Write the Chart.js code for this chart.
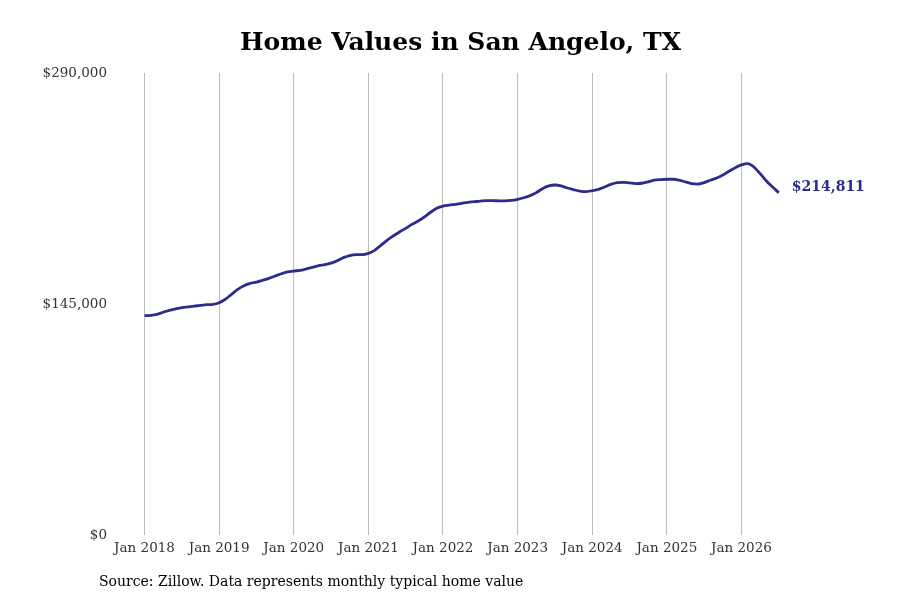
<!DOCTYPE html>
<html>
<head>
<meta charset="utf-8">
<title>Home Values in San Angelo, TX</title>
<script src="https://cdn.jsdelivr.net/npm/chart.js@4.4.1/dist/chart.umd.min.js"></script>
<style>
  html, body { margin: 0; padding: 0; background: #fff; }
  #wrap { width: 900px; height: 600px; }
</style>
</head>
<body>
<div id="wrap"><canvas id="lineChart" width="900" height="600"></canvas></div>
<script>
// Valores mensuales (Zillow), ene 2018 - jul 2026
const years = [2018, 2019, 2020, 2021, 2022, 2023, 2024, 2025, 2026];
const yearTicks = [0, 12, 24, 36, 48, 60, 72, 84, 96];
const valueTicks = [0, 145000, 290000];

const homeValues = [
    // 2018
    137700, 137900, 138500, 139800, 141000, 141900, 142700, 143200, 143700, 144100, 144600, 144800,
    // 2019
    145800, 148000, 151100, 154200, 156500, 158000, 158800, 159900, 161100, 162600, 164000, 165100,
    // 2020
    165700, 166100, 167000, 168000, 169100, 169700, 170700, 172200, 174100, 175400, 176000, 176000,
    // 2021
    176800, 178700, 181800, 185000, 187700, 190200, 192500, 195000, 197100, 199600, 202600, 205100,
    // 2022
    206500, 207100, 207600, 208200, 208800, 209200, 209600, 209900, 209900, 209700, 209700, 210000,
    // 2023
    210700, 211700, 213000, 214900, 217400, 219100, 219700, 219100, 217800, 216800, 215900, 215500,
    // 2024
    216200, 217000, 218400, 220100, 221200, 221400, 221000, 220600, 220800, 221600, 222700, 223100,
    // 2025
    223300, 223300, 222700, 221600, 220600, 220300, 221200, 222700, 224100, 226000, 228300, 230600,
    // 2026
    232300, 233100, 231000, 226800, 222200, 218400, 214811
];

const lineColor = '#2e2c8a';
const serif = '"DejaVu Serif", serif';

const points = homeValues.map((v, i) => ({ x: i, y: v }));

// Etiqueta con el último valor
const endLabel = {
    id: 'endLabel',
    afterDatasetsDraw(chart) {
        const meta = chart.getDatasetMeta(0);
        const last = meta.data[meta.data.length - 1];
        const ctx = chart.ctx;
        ctx.save();
        ctx.font = 'bold 14px ' + serif;
        ctx.fillStyle = lineColor;
        ctx.textBaseline = 'middle';
        ctx.fillText('$' + homeValues[homeValues.length - 1].toLocaleString('en-US'), last.x + 13, last.y - 5);
        ctx.restore();
    }
};

// Nota de fuente
const sourceNote = {
    id: 'sourceNote',
    afterDraw(chart) {
        const ctx = chart.ctx;
        ctx.save();
        ctx.font = '14px ' + serif;
        ctx.fillStyle = '#000';
        ctx.textBaseline = 'middle';
        ctx.fillText('Source: Zillow. Data represents monthly typical home value', 99, 582);
        ctx.restore();
    }
};

const ctx = document.getElementById('lineChart').getContext('2d');
new Chart(ctx, {
    type: 'line',
    data: {
        datasets: [{
            label: 'Home Value',
            data: points,
            borderColor: lineColor,
            borderWidth: 2.8,
            pointRadius: 0,
            fill: false,
            cubicInterpolationMode: 'monotone'
        }]
    },
    options: {
        responsive: false,
        animation: false,
        layout: { padding: { left: 21, right: 0, top: 0, bottom: 0 } },
        plugins: {
            legend: { display: false },
            tooltip: { enabled: false },
            title: {
                display: true,
                text: 'Home Values in San Angelo, TX',
                color: '#000',
                font: { family: serif, size: 25, weight: 'bold', lineHeight: 1.2 },
                padding: { top: 28.5, bottom: 14.5 }
            }
        },
        scales: {
            x: {
                type: 'linear',
                min: -4.1,
                max: 121.49,
                afterBuildTicks(scale) {
                    scale.ticks = yearTicks.map(v => ({ value: v }));
                },
                afterFit(scale) { scale.height = 65; },
                border: { display: false },
                grid: { color: '#bdbdbd', lineWidth: 1, drawTicks: false },
                ticks: {
                    padding: 5,
                    color: '#333',
                    font: { family: serif, size: 13.5 },
                    callback: v => 'Jan ' + years[v / 12]
                }
            },
            y: {
                min: 0,
                max: 290000,
                afterBuildTicks(scale) {
                    scale.ticks = valueTicks.map(v => ({ value: v }));
                },
                afterFit(scale) { scale.width = 98; },
                border: { display: false },
                grid: { display: false, drawTicks: false },
                ticks: {
                    padding: 12,
                    color: '#333',
                    font: { family: serif, size: 13.5 },
                    callback: v => '$' + v.toLocaleString('en-US')
                }
            }
        }
    },
    plugins: [endLabel, sourceNote]
});
</script>
</body>
</html>
